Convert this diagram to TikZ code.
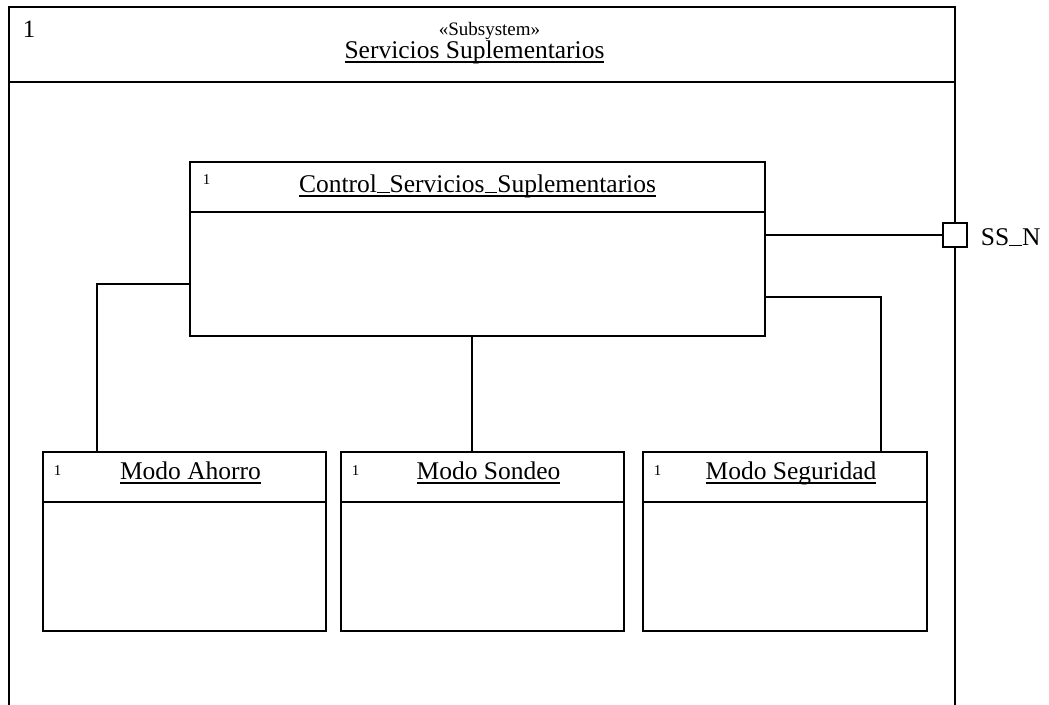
\documentclass[tikz,border=0pt]{standalone}
\usepackage{fontspec}
\setmainfont{Liberation Serif}
\usepackage{tikz}
\usetikzlibrary{positioning}

\newcommand{\undertxt}[1]{\setbox0\hbox{#1}\rlap{\rule[-4.5pt]{\wd0}{1.3pt}}\box0}
\newcommand{\usc}{\rule[-1pt]{0.5em}{1.2pt}}

\begin{document}
\begin{tikzpicture}[x=1pt,y=-1pt,
    line width=1.8pt,
    partbox/.style={draw, rectangle, inner sep=0pt, outer sep=0pt, anchor=north west},
    parttitle/.style={font=\fontsize{25.5}{30}\selectfont, inner sep=0pt, anchor=base},
    mult/.style={font=\fontsize{15}{18}\selectfont, inner sep=0pt, anchor=base west}
]

    \useasboundingbox (0,0) rectangle (1049,704);
    \clip (0,0) rectangle (1049,704);

    % Subsystem frame
    \node[partbox,
        minimum width=946pt,
        minimum height=740pt
    ] (subsystem) at (9,7) {};

    \draw ([yshift=-75pt]subsystem.north west) -- ([yshift=-75pt]subsystem.north east);

    \node[mult, font=\fontsize{25}{30}\selectfont] (subsmult) at (22,37) {1};
    \node[parttitle, font=\fontsize{19}{22}\selectfont] (stereo) at (489.5,35) {«Subsystem»};
    \node[parttitle] (substitle) at (474.5,58) {\undertxt{Servicios Suplementarios}};

    % control
    \node[partbox,
        minimum width=575pt,
        minimum height=174pt
    ] (control) at (190,162) {};

    \draw ([yshift=-50pt]control.north west) -- ([yshift=-50pt]control.north east);
    \node[mult] (controlmult) at ([xshift=12pt,yshift=-22pt]control.north west) {1};
    \node[parttitle] (controltitle) at ([yshift=-30pt]control.north) {\undertxt{Control\usc Servicios\usc Suplementarios}};

    % ahorro
    \node[partbox,
        minimum width=283pt,
        minimum height=179pt
    ] (ahorro) at (43,452) {};

    % sondeo
    \node[partbox,
        minimum width=283pt,
        minimum height=179pt,
        right=15pt of ahorro.north east,
        anchor=north west
    ] (sondeo) {};

    % seguridad
    \node[partbox,
        minimum width=284pt,
        minimum height=179pt,
        right=19pt of sondeo.north east,
        anchor=north west
    ] (seguridad) {};

    \foreach \part/\label in {ahorro/Modo Ahorro, sondeo/Modo Sondeo, seguridad/Modo Seguridad} {
        \draw ([yshift=-50pt]\part.north west) -- ([yshift=-50pt]\part.north east);
        \node[mult] (\part mult) at ([xshift=10pt,yshift=-23pt]\part.north west) {1};
        \node[parttitle] (\part title) at ([xshift=6pt,yshift=-27pt]\part.north) {\undertxt{\label}};
    }

    % port
    \node[draw,
        rectangle,
        fill=white,
        minimum size=24pt,
        inner sep=0pt,
        outer sep=0pt
    ] (port) at (955,235) {};

    \node[parttitle, anchor=base west] (portname) at (980,245) {SS\usc N};

    % Connectors
    \draw (control.east |- port.west) -- (port.west);

    \draw ([yshift=-35pt]control.west) -| ([xshift=54pt]ahorro.north west);

    \draw ([xshift=-5.5pt]control.south) -- ([xshift=-5.5pt]control.south |- sondeo.north);

    \draw ([yshift=-48pt]control.east) -| ([xshift=-46pt]seguridad.north east);

\end{tikzpicture}
\end{document}
